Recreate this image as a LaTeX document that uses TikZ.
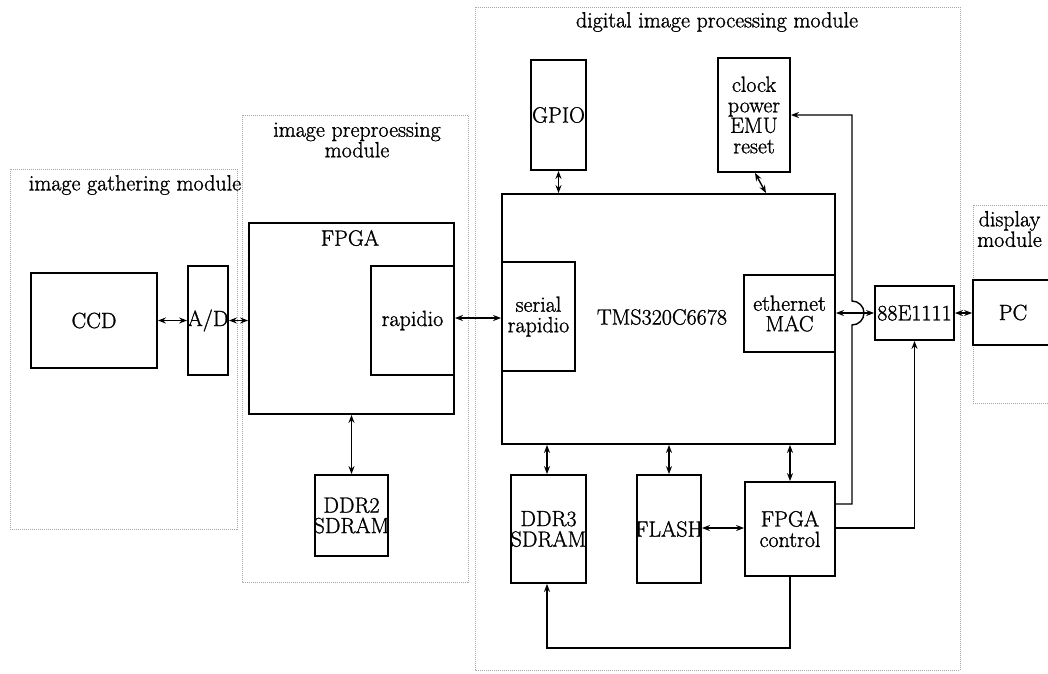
\documentclass[tikz,border=0pt]{standalone}
\usepackage{fontspec}
\setmainfont{Latin Modern Roman}[FakeBold=1.2]
\usetikzlibrary{arrows.meta,calc}
\begin{document}
\begin{tikzpicture}[x=1pt,y=-1pt,
  font=\fontsize{22}{20.5}\selectfont,
  blk/.style={draw, line width=1.8pt, inner sep=0pt},
  lbl/.style={inner sep=0pt, align=center, font=\fontsize{22}{20.5}\selectfont},
  module/.style={draw=gray!70, densely dotted, line width=1pt},
  modlabel/.style={inner sep=0pt, align=center},
  link/.style={line width=1.4pt, {Stealth[length=8pt,width=6pt]}-{Stealth[length=8pt,width=6pt]}},
  one/.style={line width=1.4pt, -{Stealth[length=8pt,width=6pt]}},
]
\useasboundingbox (0,0) rectangle (1048,673);
% modules
\draw[module] (10,169) rectangle (237,529);
\draw[module] (242,115) rectangle (468,582);
\draw[module] (475,7) rectangle (960,670);
\draw[module] (973,205) rectangle (1060,403);
\node[modlabel] (lgather) at (135,185) {image gathering module};
\node[modlabel] (lpre) at (357,140) {image preproessing\\module};
\node[modlabel] (ldig) at (717,22) {digital image processing module};
\node[modlabel, anchor=west] (ldisp) at (977,229) {display\\module};
% blocks
\node[blk, minimum width=126pt, minimum height=95pt, label={[lbl]center:CCD}] (ccd) at (94,320.5) {};
\node[blk, minimum width=40pt, minimum height=109pt, label={[lbl]center:A/D}] (ad) at (208,320.5) {};
\node[blk, minimum width=205pt, minimum height=191pt] (fpga) at (351.5,318.5) {};
\node[lbl] (fpgalbl) at (350,238) {FPGA};
\node[blk, minimum width=83pt, minimum height=109pt, label={[lbl]center:rapidio}] (rapid) at (412.5,320.5) {};
\node[blk, minimum width=73pt, minimum height=81pt, label={[lbl]center:DDR2\\SDRAM}] (ddr2) at (351.5,515.5) {};
\node[blk, minimum width=333pt, minimum height=250pt] (dsp) at (668.5,319) {};
\node[lbl] (dsplbl) at (662,317) {TMS320C6678};
\node[blk, minimum width=55pt, minimum height=110pt, label={[lbl]center:GPIO}] (gpio) at (558.5,115) {};
\node[blk, minimum width=72pt, minimum height=114pt, label={[lbl]center:clock\\power\\EMU\\reset}] (clk) at (754,115) {};
\node[blk, minimum width=73pt, minimum height=109pt, label={[lbl]center:serial\\rapidio}] (srio) at (538.5,316.5) {};
\node[blk, minimum width=91pt, minimum height=77pt, label={[lbl]center:ethernet\\MAC}] (mac) at (789.5,313.5) {};
\node[blk, minimum width=79pt, minimum height=54pt, label={[lbl]center:88E1111}] (phy) at (914.5,313) {};
\node[blk, minimum width=80pt, minimum height=65pt, label={[lbl]center:PC}] (pc) at (1013,312.5) {};
\node[blk, minimum width=75pt, minimum height=108pt, label={[lbl]center:DDR3\\SDRAM}] (ddr3) at (548.5,529) {};
\node[blk, minimum width=64pt, minimum height=108pt, label={[lbl]center:FLASH}] (flash) at (669,529) {};
\node[blk, minimum width=90pt, minimum height=94pt, label={[lbl]center:FPGA\\control}] (fctl) at (790,529) {};
% connectors
\draw[link] (ccd.east) -- (ad.west);
\draw[link] (ad.east) -- (fpga.west |- ad.east);
\draw[link] (rapid.east |- 0,318) -- (srio.west |- 0,318);
\draw[link] (fpga.south -| ddr2.north) -- (ddr2.north);
\draw[link] (gpio.south) -- (gpio.south |- dsp.north);
\draw[link] ([xshift=1pt]clk.south) -- ([xshift=12pt]clk.south |- dsp.north);
\draw[link] (dsp.south -| 547,0) -- (ddr3.north -| 547,0);
\draw[link] (dsp.south -| flash.north) -- (flash.north);
\draw[link] (dsp.south -| fctl.north) -- (fctl.north);
\draw[link] (flash.east |- 0,528) -- (fctl.west |- 0,528);
\draw[link] (mac.east |- 0,313) -- (phy.west |- 0,313);
\draw[link] (phy.east |- 0,313) -- (pc.west |- 0,313);
\draw[one] (fctl.east |- 0,504) -- (852,504) -- (852,325)
  arc[start angle=-90, end angle=90, radius=12pt] -- (852,115) -- (clk.east |- 0,115);
\draw[one] (fctl.east |- 0,528) -- (phy.south |- 0,528) -- (phy.south);
\draw[one] (fctl.south) -- (fctl.south |- 0,648) -- (547,648) -- (ddr3.south -| 547,0);
\end{tikzpicture}
\end{document}
